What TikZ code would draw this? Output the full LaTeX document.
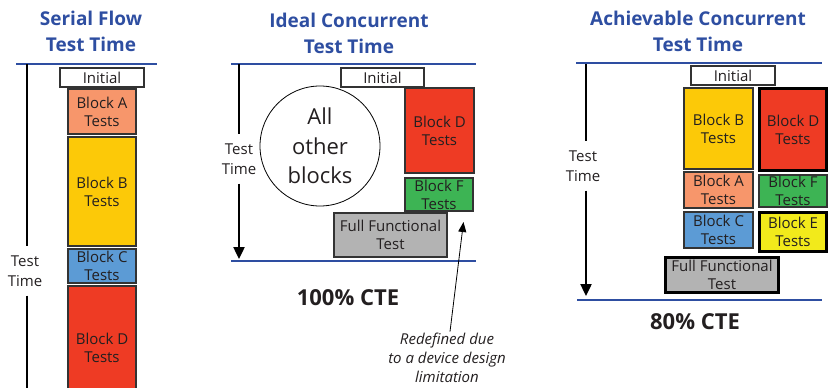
\documentclass[tikz,border=0pt]{standalone}
\usepackage{fontspec}
\setmainfont{Open Sans}
\usepackage{xcolor}
\usepackage{tikz}
\usetikzlibrary{arrows.meta}

\definecolor{titleblue}{HTML}{2E4EA1}
\definecolor{blkA}{HTML}{F7966B}
\definecolor{blkB}{HTML}{FCC908}
\definecolor{blkC}{HTML}{5C9BD5}
\definecolor{blkD}{HTML}{EE3B24}
\definecolor{blkE}{HTML}{F2EA1B}
\definecolor{blkF}{HTML}{3DB454}
\definecolor{blkG}{HTML}{B3B3B3}
\definecolor{txt}{HTML}{231F20}

\begin{document}
\begin{tikzpicture}[x=1pt, y=-1pt,
		title/.style={align=center, text=titleblue, font=\fontsize{19}{26}\selectfont\bfseries},
		cte/.style={font=\fontsize{22}{24}\selectfont\bfseries, text=txt},
		axis/.style={line width=2.4pt, black},
		level/.style={line width=2.6pt, titleblue},
		axlabel/.style={align=center, font=\fontsize{15}{20}\selectfont, text=txt, inner sep=9pt}]
	\useasboundingbox (0,0) rectangle (828,388);
	\clip (0,0) rectangle (828,388);
	
	% column headings
	\node[title] (T1) at (91,31) {Serial Flow\\Test Time};
	\node[title] (T2) at (349,33.5) {Ideal Concurrent\\Test Time};
	\node[title] (T3) at (698,31) {Achievable Concurrent\\Test Time};
	
	% blue start / end levels
	\draw[level] (16,64) -- (157,64);
	\draw[level] (231,64) -- (476,64);
	\draw[level] (231,261) -- (476,261);
	\draw[level] (576,63) -- (822,63);
	\draw[level] (577,300) -- (822,300);
	
	% time axes
	\coordinate (S0) at (27,64);
	\coordinate (S1) at (27,400);
	\node[axlabel] (SL) at (25,271) {Test\\Time};
	\draw[axis] (S0) -- (S0 |- SL.north);
	\draw[axis] (S1 |- SL.south) -- (S1);
	
	\coordinate (I0) at (239,64);
	\coordinate (I1) at (239,259);
	\node[axlabel] (IL) at (239,159) {Test\\Time};
	\draw[axis] (I0) -- (I0 |- IL.north);
	\draw[axis, -{Triangle[width=11pt, length=12pt]}] (I1 |- IL.south) -- (I1);
	
	\coordinate (C0) at (586,64);
	\coordinate (C1) at (586,296);
	\node[axlabel] (CL) at (583,166) {Test\\Time};
	\draw[axis] (C0) -- (C0 |- CL.north);
	\draw[axis, -{Triangle[width=11pt, length=12pt]}] (C1 |- CL.south) -- (C1);
	
	\begin{scope}[
		blk/.style={align=center, draw=black!80, line width=1.3pt, text=txt, font=\fontsize{15}{18}\selectfont, inner sep=0pt},
		heavy/.style={line width=2.4pt, draw=black}]
		% serial flow
		\node[blk, fill=white, minimum width=84, minimum height=19] (S2) at (102,77.5) {Initial};
		\node[blk, fill=blkA, minimum width=68, minimum height=45] (S3) at (102,111.5) {Block A\\Tests};
		\node[blk, fill=blkB, minimum width=68, minimum height=109] (S4) at (102,191.5) {Block B\\Tests};
		\node[blk, fill=blkC, minimum width=68, minimum height=34] (S5) at (102,266) {Block C\\Tests};
		\node[blk, fill=blkD, minimum width=68, minimum height=124] (S6) at (102,348) {Block D\\Tests};
		
		% ideal concurrent
		\node[blk, fill=white, minimum width=83, minimum height=19] (I2) at (382.5,77.5) {Initial};
		\node[circle, draw, line width=0.8pt, minimum size=120, align=center, text=txt, font=\fontsize{22}{29.5}\selectfont] (I3) at (320,146) {All\\other\\blocks};
		\node[blk, fill=blkD, minimum width=69, minimum height=85] (I4) at (439.5,130.5) {Block D\\Tests};
		\node[blk, fill=blkF, minimum width=68, minimum height=33] (I5) at (439,194.5) {Block F\\Tests};
		\node[blk, fill=blkG, minimum width=113, minimum height=44] (I6) at (390.5,235) {Full Functional\\Test};
		
		% achievable concurrent
		\node[blk, fill=white, minimum width=84, minimum height=19] (C2) at (733,75.5) {Initial};
		\node[blk, fill=blkB, minimum width=69, minimum height=81] (C3) at (718.5,128.5) {Block B\\Tests};
		\node[blk, heavy, fill=blkD, minimum width=67, minimum height=82] (C4) at (793,129.5) {Block D\\Tests};
		\node[blk, fill=blkA, minimum width=69, minimum height=36] (C5) at (718.5,190) {Block A\\Tests};
		\node[blk, fill=blkF, minimum width=68, minimum height=32] (C6) at (793,191) {Block F\\Tests};
		\node[blk, fill=blkC, minimum width=69, minimum height=36] (C7) at (718.5,230) {Block C\\Tests};
		\node[blk, heavy, fill=blkE, minimum width=67, minimum height=39] (C8) at (793,232) {Block E\\Tests};
		\node[blk, heavy, fill=blkG, minimum width=113, minimum height=35] (C9) at (722,275) {Full Functional\\Test};
	\end{scope}
	
	% efficiency figures
	\node[cte] (I7) at (348,298) {100\% CTE};
	\node[cte] (C10) at (695,322) {80\% CTE};
	
	% note on block F
	\node[align=center, text=txt, font=\fontsize{15}{19}\selectfont\itshape] (N1) at (447,358) {Redefined due\\to a device design\\limitation};
	\coordinate (N2) at (463.5,222);
	\draw[line width=0.8pt, -{Triangle[width=8pt, length=10pt]}] (N1.north -| 450,0) ++(0,2) -- (N2);
\end{tikzpicture}
\end{document}
